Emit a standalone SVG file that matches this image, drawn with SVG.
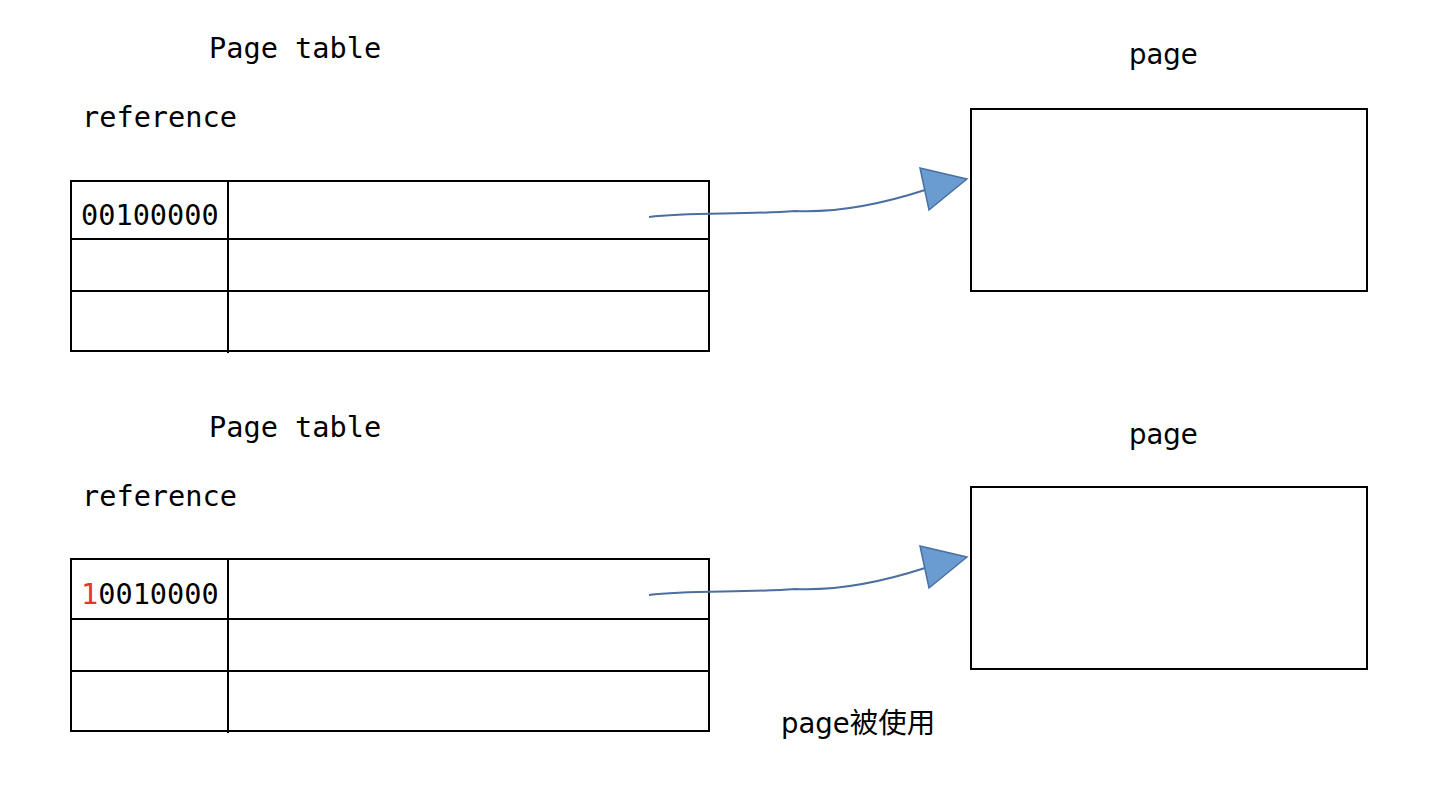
<svg xmlns="http://www.w3.org/2000/svg" width="1452" height="794" viewBox="0 0 1452 794">
<style>
.box{fill:none;stroke:#000;stroke-width:2}
.ln{stroke:#000;stroke-width:2}
.mono{font-family:"DejaVu Sans Mono","Liberation Mono",monospace;font-size:28.6px;fill:#000}
.sans{font-family:"DejaVu Sans","Noto Sans CJK SC",sans-serif;font-size:27.5px;fill:#000}
.cjk{font-family:"Noto Sans CJK SC",sans-serif}
.conn{fill:none;stroke:#4a6fa0;stroke-width:2}
.head{fill:#6a9bd1;stroke:#4a6fa0;stroke-width:1.5;stroke-linejoin:miter}
</style>
<rect width="1452" height="794" fill="#fff"/>
<g id="table1">
<text class="mono" x="209" y="58">Page table</text>
<text class="mono" x="82" y="127">reference</text>
<rect class="box" x="71" y="181" width="638" height="170"/>
<line class="ln" x1="71" y1="239" x2="709" y2="239"/>
<line class="ln" x1="71" y1="291" x2="709" y2="291"/>
<line class="ln" x1="228" y1="181" x2="228" y2="353"/>
<text class="mono" x="81" y="225">00100000</text>
</g>
<g id="page1">
<text class="sans" x="1129" y="64">page</text>
<rect class="box" x="971" y="109" width="396" height="182"/>
</g>
<g id="table2">
<text class="mono" x="209" y="437">Page table</text>
<text class="mono" x="82" y="506">reference</text>
<rect class="box" x="71" y="559" width="638" height="172"/>
<line class="ln" x1="71" y1="619" x2="709" y2="619"/>
<line class="ln" x1="71" y1="671" x2="709" y2="671"/>
<line class="ln" x1="228" y1="559" x2="228" y2="733"/>
<text class="mono" x="81" y="604"><tspan fill="#e8352a">1</tspan>0010000</text>
</g>
<g id="page2">
<text class="sans" x="1129" y="444">page</text>
<rect class="box" x="971" y="487" width="396" height="182"/>
</g>
<g id="note">
<text class="sans" x="781" y="733">page<tspan class="cjk" font-size="28.5">被使用</tspan></text>
</g>
<g id="connectors">
<path class="conn" d="M649,217 C690,212 740,215 795,211 C840,213 885,203 925,190"/>
<polygon class="head" points="967,179 920,168 929,210"/>
<path class="conn" d="M649,595 C690,590 740,593 795,589 C840,591 885,581 925,568"/>
<polygon class="head" points="967,557 920,546 929,588"/>
</g>
</svg>
